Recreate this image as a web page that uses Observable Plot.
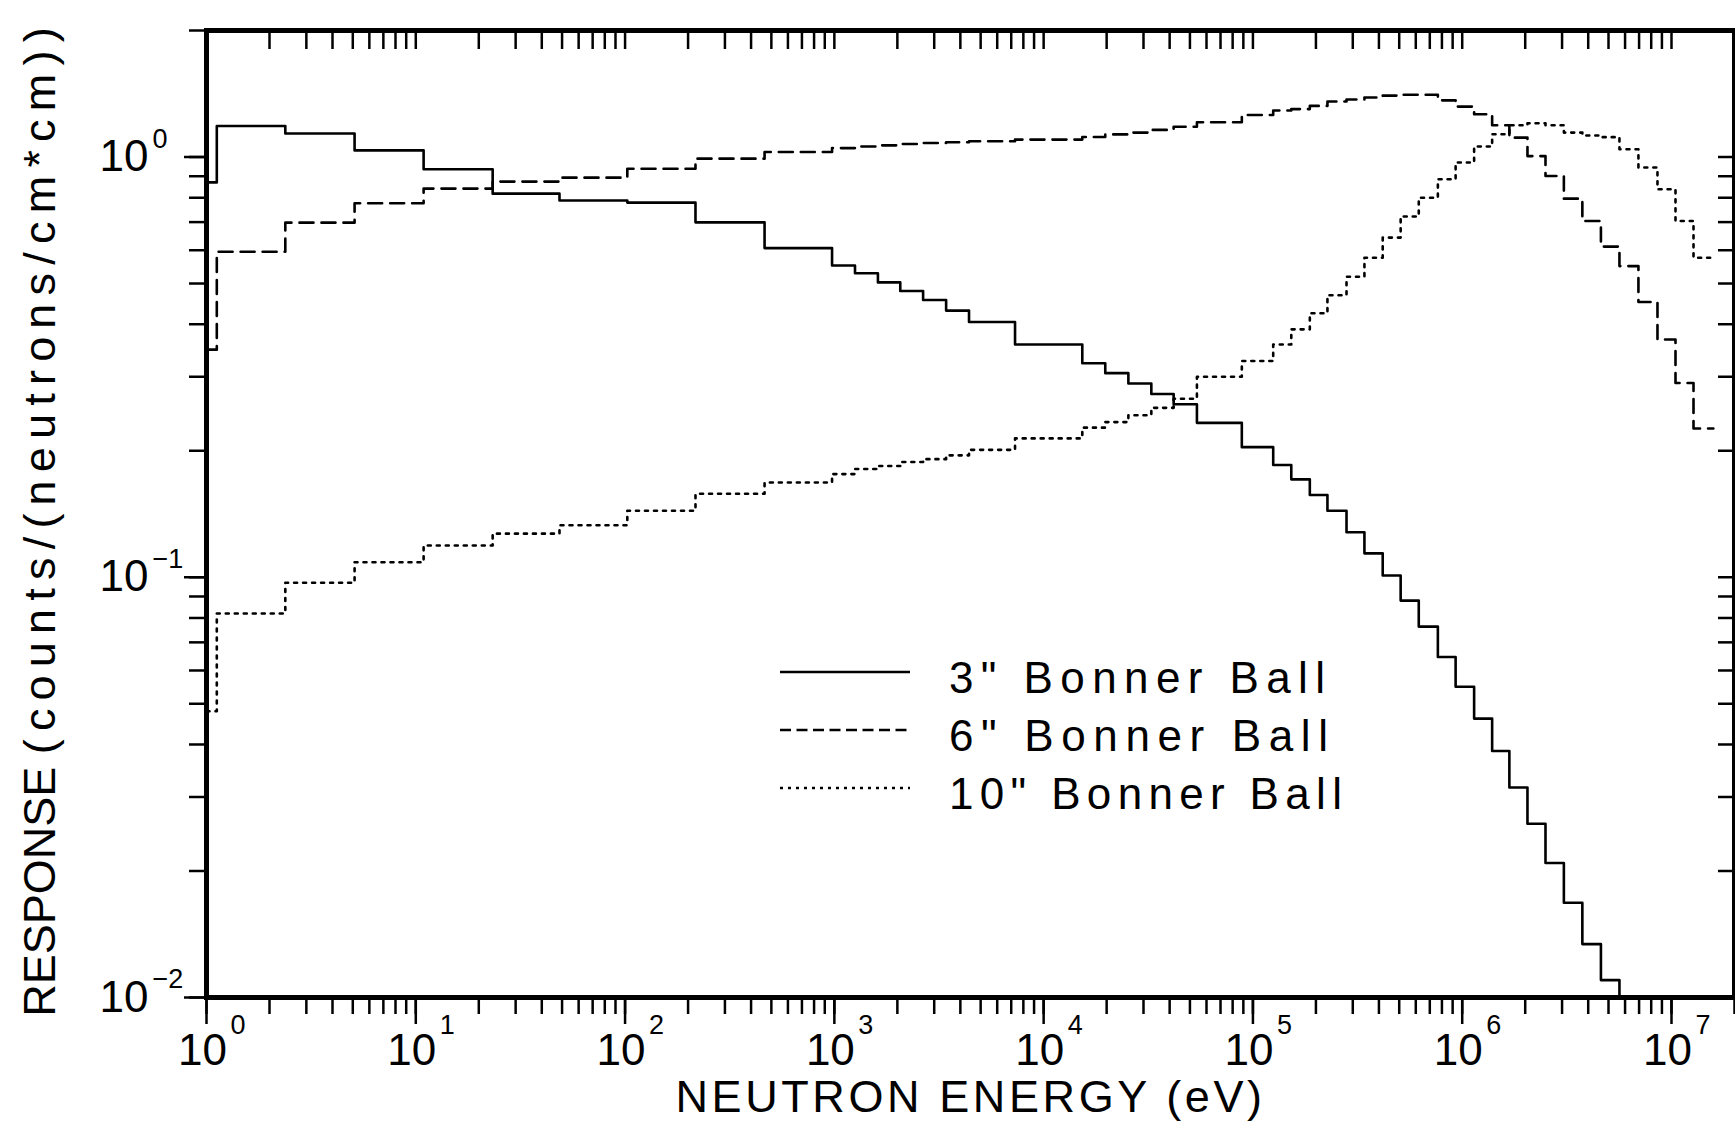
<!DOCTYPE html>
<html>
<head>
<meta charset="utf-8">
<script src="https://cdn.jsdelivr.net/npm/d3@7"></script>
<script src="https://cdn.jsdelivr.net/npm/@observablehq/plot@0.6"></script>
<style>
  html, body { margin: 0; padding: 0; background: #fff; overflow: hidden; }
  #chart { width: 1735px; height: 1130px; }
</style>
</head>
<body>
<div id="chart"></div>
<script>
// ---- data (energy group edges in eV, responses per group) ----
const energyEdges = [1, 1.12, 2.38, 5.1, 10.9, 23.3, 48.6, 102.5, 217, 464,
  975, 1255, 1615, 2065, 2655, 3420, 4400, 7300, 15300, 19700,
  25400, 32700, 41800, 54000, 88500, 125000, 152500, 187000, 227000, 280000,
  341000, 417000, 508000, 620000, 765000, 930000, 1.14e6, 1.39e6, 1.68e6, 2.05e6,
  2.5e6, 3.06e6, 3.75e6, 4.6e6, 5.64e6, 6.95e6, 8.57e6, 1.045e7, 1.274e7, 1.585e7];

const response3in = [0.87, 1.185, 1.137, 1.037, 0.935, 0.818, 0.788, 0.779, 0.699, 0.607,
  0.552, 0.529, 0.503, 0.480, 0.457, 0.431, 0.405, 0.358, 0.323, 0.306,
  0.289, 0.273, 0.258, 0.233, 0.204, 0.185, 0.171, 0.157, 0.144, 0.128,
  0.114, 0.101, 0.088, 0.0763, 0.0646, 0.0549, 0.0461, 0.0386, 0.0316, 0.0259,
  0.0209, 0.0168, 0.0134, 0.011];

const response6in = [0.348, 0.595, 0.698, 0.776, 0.841, 0.874, 0.893, 0.938, 0.991, 1.028,
  1.05, 1.059, 1.066, 1.074, 1.08, 1.084, 1.09, 1.10, 1.116, 1.132,
  1.143, 1.16, 1.18, 1.21, 1.259, 1.29, 1.30, 1.323, 1.355, 1.37,
  1.385, 1.40, 1.406, 1.406, 1.364, 1.318, 1.264, 1.19, 1.112, 1.005,
  0.901, 0.796, 0.704, 0.612, 0.55, 0.452, 0.368, 0.29, 0.226];

const response10in = [0.048, 0.082, 0.097, 0.1086, 0.119, 0.127, 0.133, 0.144, 0.158, 0.168,
  0.176, 0.181, 0.184, 0.188, 0.191, 0.195, 0.201, 0.214, 0.227, 0.234,
  0.243, 0.253, 0.266, 0.30, 0.327, 0.358, 0.389, 0.425, 0.469, 0.519,
  0.576, 0.643, 0.722, 0.80, 0.885, 0.97, 1.059, 1.133, 1.19, 1.203,
  1.19, 1.143, 1.125, 1.115, 1.043, 0.944, 0.838, 0.704, 0.576];

const seriesNames = ['3" Bonner Ball', '6" Bonner Ball', '10" Bonner Ball'];
const xMajorTicks = [1, 10, 100, 1e3, 1e4, 1e5, 1e6, 1e7];
const yMajorTicks = [0.01, 0.1, 1];
const xDomain = [1, 2e7];
const yDomain = [0.01, 2];
const xTitle = "NEUTRON ENERGY (eV)";
const yTitleMain = "RESPONSE";
const yTitleUnit = "(counts/(neutrons/cm*cm))";

// ---- helpers ----
function stepPoints(values, dropTo) {
  const pts = values.map((v, i) => ({E: energyEdges[i], R: v}));
  const end = energyEdges[values.length];
  pts.push({E: end, R: values[values.length - 1]});
  if (dropTo != null) pts.push({E: end, R: dropTo});
  return pts;
}
const xMinorTicks = [];
for (let k = 0; k <= 7; k++) for (let m = 1; m <= 9; m++) {
  const v = m * 10 ** k; if (v <= xDomain[1]) xMinorTicks.push(v);
}
const xTopTicks = xMinorTicks.filter(v => v > 1);
const yMinorTicks = [];
for (let k = -2; k <= 0; k++) for (let m = 1; m <= 9; m++) {
  const v = +(m * 10 ** k).toPrecision(3); if (v <= yDomain[1]) yMinorTicks.push(v);
}
const expLabel = d => { const e = Math.round(Math.log10(d)); return e < 0 ? "\u2212" + (-e) : String(e); };

const FONT = '"Liberation Sans", Arial, Helvetica, sans-serif';
const lineW = 2.6;
const dashes = [null, "14,8", "3,6"];
const legendDashes = [null, "11,5.5", "3,5"];

const chart = Plot.plot({
  width: 1735,
  height: 1130,
  marginLeft: 206,
  marginRight: 1,
  marginTop: 30,
  marginBottom: 133,
  style: {fontFamily: FONT, background: "white", color: "black"},
  x: {type: "log", domain: xDomain, label: null},
  y: {type: "log", domain: yDomain, label: null},
  marks: [
    Plot.line(stepPoints(response3in, yDomain[0]), {x: "E", y: "R", curve: "step-after", stroke: "black", strokeWidth: lineW, clip: true}),
    Plot.line(stepPoints(response6in), {x: "E", y: "R", curve: "step-after", stroke: "black", strokeWidth: lineW, strokeDasharray: dashes[1], clip: true}),
    Plot.line(stepPoints(response10in), {x: "E", y: "R", curve: "step-after", stroke: "black", strokeWidth: lineW, strokeDasharray: dashes[2], clip: true}),

    // bottom ticks (outward), majors longer
    Plot.axisX({anchor: "bottom", ticks: xMinorTicks, tickSize: 17, strokeWidth: 2.5, tickFormat: () => "", label: null}),
    Plot.axisX({anchor: "bottom", ticks: xMajorTicks, tickSize: 27, strokeWidth: 2.5, tickFormat: () => "", label: null}),
    Plot.axisX({anchor: "bottom", ticks: xMajorTicks, tickSize: 0, tickPadding: 36, dx: -4, fontSize: 44, tickFormat: () => "10", label: null}),
    Plot.text(xMajorTicks, {x: d => d, frameAnchor: "bottom", text: expLabel, textAnchor: "start", dx: 24, dy: 36, fontSize: 27}),

    // top ticks (inward)
    Plot.axisX({anchor: "top", ticks: xTopTicks, tickSize: 18, dy: 18, strokeWidth: 2.5, tickFormat: () => "", label: null}),

    // left ticks (outward), majors longer
    Plot.axisY({anchor: "left", ticks: yMinorTicks, tickSize: 17, strokeWidth: 2.5, tickFormat: () => "", label: null}),
    Plot.axisY({anchor: "left", ticks: yMajorTicks, tickSize: 22, strokeWidth: 2.5, tickFormat: () => "", label: null}),
    Plot.axisY({anchor: "left", ticks: yMajorTicks, tickSize: 0, tickPadding: 58, fontSize: 44, tickFormat: () => "10", label: null}),
    Plot.text(yMajorTicks, {y: d => d, frameAnchor: "left", text: expLabel, textAnchor: "start", dx: -54, dy: -18, fontSize: 27}),

    // right ticks (inward)
    Plot.axisY({anchor: "right", ticks: yMinorTicks, tickSize: 17, dx: -17, strokeWidth: 2.5, tickFormat: () => "", label: null}),

    // axis titles
    Plot.text([xTitle], {frameAnchor: "bottom", text: d => d, dy: 114, fontSize: 45, textAnchor: "middle"}),
    Plot.text([yTitleMain], {frameAnchor: "left", text: d => d, rotate: -90, dx: -166, dy: 4, fontSize: 45, textAnchor: "middle"}),

    Plot.frame({stroke: "black", strokeWidth: 5})
  ]
});

// axis title spacing to match the reference's spaced lettering
const svg = d3.select(chart);
svg.selectAll("text").each(function () {
  const t = d3.select(this);
  const s = this.textContent;
  if (s === xTitle) {
    t.style("letter-spacing", "3.6px");
  } else if (s === yTitleMain) {
    t.attr("text-anchor", "middle");
    t.text(null);
    t.append("tspan").text(yTitleMain + " ");
    t.append("tspan").style("letter-spacing", "8.2px").text(yTitleUnit);
  }
});

// in-plot legend
const legend = svg.append("g").attr("aria-label", "legend")
  .attr("font-family", FONT).attr("font-size", 44).attr("text-anchor", "start");
const legendLengths = [376, 379, 393];
seriesNames.forEach((name, i) => {
  const yLine = 672 + i * 58;
  const l = legend.append("line")
    .attr("x1", 780).attr("x2", 910).attr("y1", yLine).attr("y2", yLine)
    .attr("stroke", "black").attr("stroke-width", lineW);
  if (legendDashes[i]) l.attr("stroke-dasharray", legendDashes[i]);
  legend.append("text")
    .attr("x", 949).attr("y", yLine + 5 + 15.5)
    .attr("text-anchor", "start")
    .attr("textLength", legendLengths[i]).attr("lengthAdjust", "spacing")
    .attr("fill", "black")
    .text(name);
});

document.getElementById("chart").appendChild(chart);
</script>
</body>
</html>
